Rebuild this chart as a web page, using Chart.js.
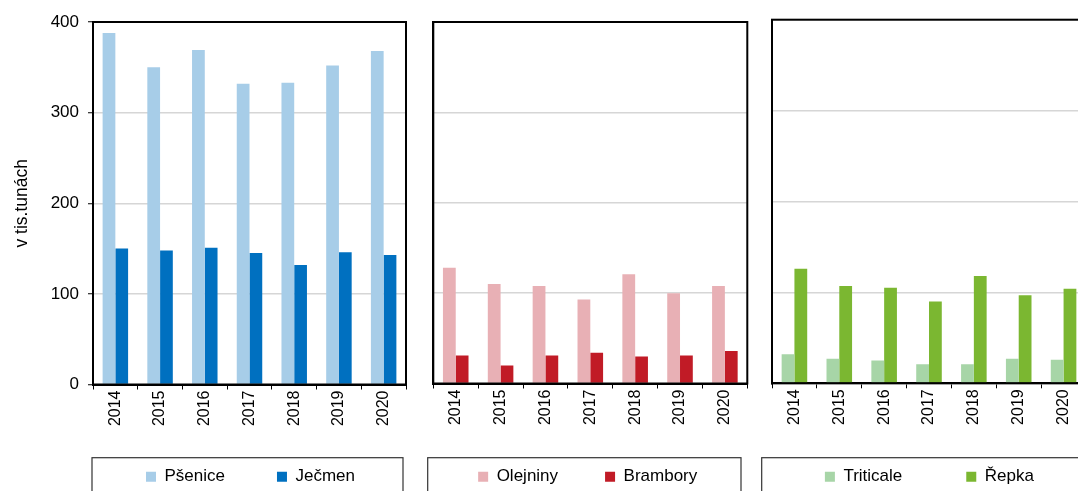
<!DOCTYPE html>
<html>
<head>
<meta charset="utf-8">
<script src="https://cdn.jsdelivr.net/npm/chart.js@4.4.1/dist/chart.umd.min.js"></script>
<style>
  html, body { margin: 0; padding: 0; background: #fff; width: 1078px; height: 491px; overflow: hidden; position: relative; }
  canvas { position: absolute; top: 0; }
</style>
</head>
<body>
<canvas id="c1" width="420" height="500" style="left:0px"></canvas>
<canvas id="c2" width="340" height="500" style="left:420px"></canvas>
<canvas id="c3" width="386" height="500" style="left:700px"></canvas>
<script>
// ---- data ----
const years = ['2014', '2015', '2016', '2017', '2018', '2019', '2020'];
const psenice = [388, 350, 369, 332, 333, 352, 368];
const jecmen = [150, 148, 151, 145, 132, 146, 143];
const olejniny = [128, 110, 108, 93, 121, 100, 108];
const brambory = [31, 20, 31, 34, 30, 31, 36];
const triticale = [32, 27, 25, 21, 21, 27, 26];
const repka = [126, 107, 105, 90, 118, 97, 104];
const yMin = 0, yMax = 400, yStep = 100;
const yTitle = 'v tis.tunách';

Chart.defaults.font.family = '"Liberation Sans", Arial, Helvetica, sans-serif';
Chart.defaults.color = '#000';

const LEGEND_H = 30;

const framePlugin = {
  id: 'frame',
  afterLayout(chart, args, o) {
    const lg = chart.legend;
    if (lg) {
      lg.left = o.legendCenter - 200;
      lg.right = o.legendCenter + 200;
      lg.width = 400;
      lg.top = o.legendTextY - lg.options.labels.padding - 8.5;
      lg.height = 200;
      lg.bottom = lg.top + 200;
    }
  },
  afterDraw(chart, args, o) {
    const { ctx, chartArea: a } = chart;
    ctx.save();
    ctx.strokeStyle = '#000';
    ctx.lineWidth = 2;
    ctx.strokeRect(a.left, a.top, a.right - a.left, a.bottom - a.top);
    ctx.strokeStyle = '#333';
    ctx.lineWidth = 1.2;
    ctx.strokeRect(o.boxLeft, o.boxTop, o.boxRight - o.boxLeft, 100);
    ctx.restore();
  }
};

function makeChart(id, labelsA, dataA, colA, labelsB, dataB, colB, g) {
  return new Chart(document.getElementById(id), {
    type: 'bar',
    data: {
      labels: years,
      datasets: [
        { label: labelsA, data: dataA, backgroundColor: colA, borderWidth: 0, categoryPercentage: 0.57, barPercentage: 1 },
        { label: labelsB, data: dataB, backgroundColor: colB, borderWidth: 0, categoryPercentage: 0.57, barPercentage: 1 }
      ]
    },
    options: {
      responsive: false,
      animation: false,
      layout: { padding: { left: 0, right: g.padRight, top: g.padTop, bottom: 0 } },
      plugins: {
        tooltip: { enabled: false },
        legend: {
          position: 'bottom',
          maxHeight: LEGEND_H,
          labels: { boxWidth: 10, boxHeight: 10, padding: g.legPad, color: '#000', font: { size: 17 } }
        },
        frame: g.frame
      },
      scales: {
        x: {
          grid: { offset: true, drawOnChartArea: false, drawTicks: true, tickLength: 5, tickColor: '#000', tickWidth: 1 },
          border: { display: true, color: '#000', width: 2 },
          ticks: { minRotation: 90, maxRotation: 90, autoSkip: false, padding: 1, color: '#000', font: { size: 16 } },
          afterFit: s => { s.height = 500 - LEGEND_H - g.bottomY; }
        },
        y: {
          min: yMin, max: yMax,
          grid: { color: '#d6d6d6', lineWidth: 1.5, drawTicks: g.showY, tickLength: 5, tickColor: '#000', tickWidth: 1 },
          border: { display: true, color: '#000', width: 2 },
          ticks: { display: g.showY, stepSize: yStep, padding: 9, color: '#000', font: { size: 17 } },
          title: { display: g.showY, text: yTitle, color: '#000', font: { size: 17.5 }, padding: { top: 12, bottom: 0 } },
          afterFit: s => { s.width = g.yWidth; }
        }
      }
    },
    plugins: [framePlugin]
  });
}

makeChart('c1', 'Pšenice', psenice, '#a7cde8', 'Ječmen', jecmen, '#0070c0', {
  padRight: 14, padTop: 22, yWidth: 93, showY: true, legPad: 52, bottomY: 384.5,
  frame: { legendCenter: 250.5, legendTextY: 476.7, boxLeft: 92, boxRight: 403, boxTop: 457.7 }
});
makeChart('c2', 'Olejniny', olejniny, '#e8b0b5', 'Brambory', brambory, '#c11b26', {
  padRight: 12.7, padTop: 22, yWidth: 13.3, showY: false, legPad: 47, bottomY: 383.5,
  frame: { legendCenter: 167.7, legendTextY: 476.7, boxLeft: 7.7, boxRight: 321, boxTop: 457.7 }
});
makeChart('c3', 'Triticale', triticale, '#a7d5a7', 'Řepka', repka, '#7bb731', {
  padRight: 0, padTop: 19.7, yWidth: 72, showY: false, legPad: 64, bottomY: 383.3,
  frame: { legendCenter: 229.4, legendTextY: 476.7, boxLeft: 61.7, boxRight: 395, boxTop: 457.7 }
});
</script>
</body>
</html>
